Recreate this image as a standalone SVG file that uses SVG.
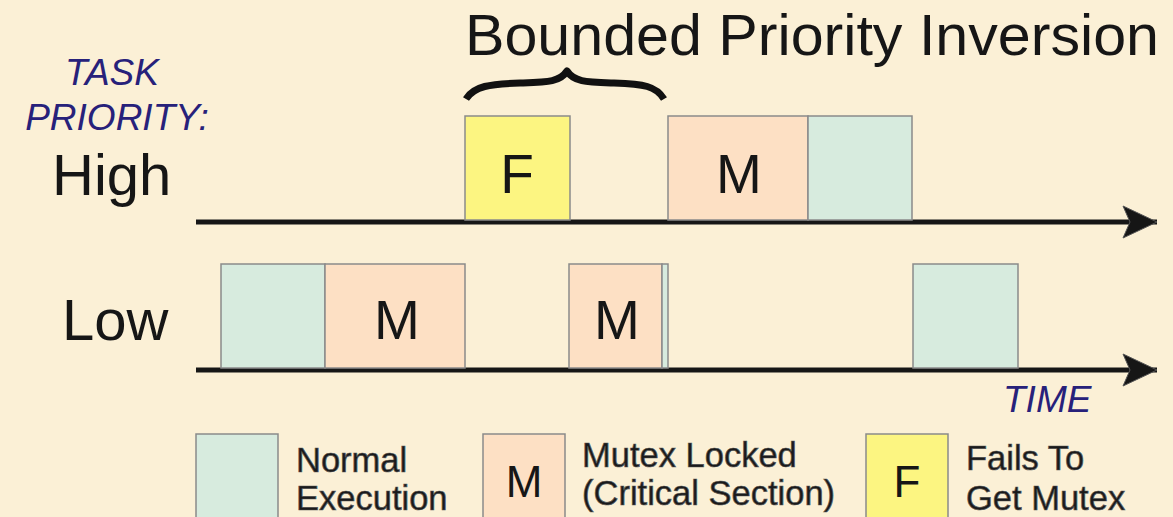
<svg xmlns="http://www.w3.org/2000/svg" width="1173" height="517" viewBox="0 0 1173 517">
<style>
.t{font-family:"Liberation Sans",Arial,sans-serif;fill:#161616}
.n{font-family:"Liberation Sans",Arial,sans-serif;fill:#27217a;font-style:italic;font-size:37px}
.g{fill:#d7ebde;stroke:#8a8a8a;stroke-width:1.5}
.m{fill:#fde0c4;stroke:#8a8a8a;stroke-width:1.5}
.f{fill:#fcf581;stroke:#8a8a8a;stroke-width:1.5}
.ax{stroke:#161616;stroke-width:5;fill:none}
.lg{font-family:"Liberation Sans",Arial,sans-serif;fill:#1a1a1a;stroke:#555;stroke-width:0.7;font-size:34.5px}
</style>
<defs>
<marker id="ah" markerWidth="40" markerHeight="34" refX="36" refY="17" markerUnits="userSpaceOnUse" orient="auto">
<path d="M2,1 L36,17 L2,33 L9,17 Z" fill="#161616" stroke="#555" stroke-width="1"/>
</marker>
</defs>
<rect width="1173" height="517" fill="#fbf0d6"/>
<g id="title"><text class="t" x="465" y="55" font-size="58" textLength="694" lengthAdjust="spacingAndGlyphs">Bounded Priority Inversion</text></g>
<g id="brace"><path d="M466,99 C474,86 490,84 520,83 C548,82 560,82 567,71 C574,82 586,82 614,83 C644,84 656,86 664,99" fill="none" stroke="#111" stroke-width="7" stroke-linejoin="round"/></g>
<g id="labels">
<text class="n" x="112" y="85" text-anchor="middle">TASK</text>
<text class="n" x="117" y="130" text-anchor="middle">PRIORITY:</text>
<text class="t" x="52" y="195" font-size="58">High</text>
<text class="t" x="62" y="340" font-size="58">Low</text>
<text class="n" x="1003" y="412">TIME</text>
</g>
<g id="connectors">
<line class="ax" x1="196" y1="222" x2="1157" y2="222" marker-end="url(#ah)"/>
<line class="ax" x1="196" y1="370" x2="1157" y2="370" marker-end="url(#ah)"/>
</g>
<g id="high-F"><rect class="f" x="465" y="116" width="105" height="104"/><text class="t" x="517" y="193" font-size="55" text-anchor="middle">F</text></g>
<g id="high-M"><rect class="m" x="668" y="116" width="140" height="104"/><text class="t" x="739" y="193" font-size="55" text-anchor="middle">M</text></g>
<g id="high-N"><rect class="g" x="808" y="116" width="104" height="104"/></g>
<g id="low-N1"><rect class="g" x="221" y="264" width="104" height="104"/></g>
<g id="low-M1"><rect class="m" x="325" y="264" width="140" height="104"/><text class="t" x="397" y="339" font-size="55" text-anchor="middle">M</text></g>
<g id="low-M2"><rect class="m" x="569" y="264" width="93" height="104"/><rect class="g" x="662" y="264" width="6" height="104"/><text class="t" x="617" y="339" font-size="55" text-anchor="middle">M</text></g>
<g id="low-N2"><rect class="g" x="913" y="264" width="105" height="104"/></g>
<g id="legend-normal"><rect class="g" x="196" y="434" width="82" height="90"/><text class="lg" x="296" y="472">Normal</text><text class="lg" x="296" y="510">Execution</text></g>
<g id="legend-mutex"><rect class="m" x="483" y="434" width="82" height="90"/><text class="t" x="524" y="497" font-size="44" text-anchor="middle">M</text><text class="lg" x="582" y="467">Mutex Locked</text><text class="lg" x="582" y="505">(Critical Section)</text></g>
<g id="legend-fail"><rect class="f" x="866" y="434" width="82" height="90"/><text class="t" x="907" y="497" font-size="44" text-anchor="middle">F</text><text class="lg" x="966" y="470">Fails To</text><text class="lg" x="966" y="510">Get Mutex</text></g>
</svg>
